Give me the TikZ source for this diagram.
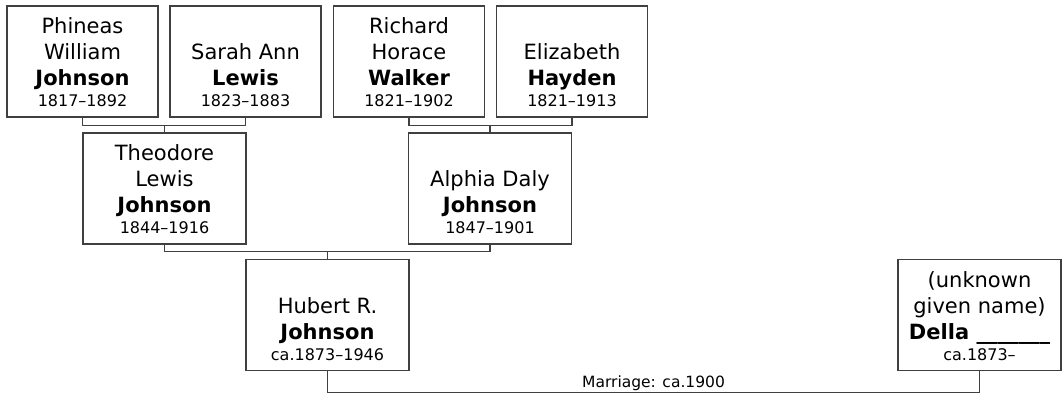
\documentclass[tikz,border=0pt]{standalone}
\usepackage{fontspec}
\setmainfont{DejaVu Sans}

\newcommand{\namesize}{\fontsize{21}{26}\selectfont}
\newcommand{\datesize}{\fontsize{16}{21}\selectfont}
\newcommand{\personcard}[2]{\parbox[c][91pt][b]{150pt}{\centering\namesize #1\par\datesize #2\par}}

\begin{document}
\begin{tikzpicture}[
    x=1pt, y=-1pt,
    person/.style={draw=black!75, line width=1.2pt, rectangle, inner sep=0pt, minimum height=111pt, minimum width=163pt},
    elder/.style={person, minimum width=151pt},
    kin/.style={draw=black!75, line width=1.2pt},
    note/.style={font=\fontsize{15.5}{18}\selectfont, inner sep=1pt}
]
    \useasboundingbox (0,0) rectangle (1062,402);

    % Grandparents
    \node[elder] (phineas) at (82.5,61.5) {\personcard{Phineas\\William\\\textbf{Johnson}}{1817--1892}};
    \node[elder] (sarah) at (245.5,61.5) {\personcard{Sarah Ann\\\textbf{Lewis}}{1823--1883}};
    \node[elder] (richard) at (409,61.5) {\personcard{Richard\\Horace\\\textbf{Walker}}{1821--1902}};
    \node[elder] (elizabeth) at (572,61.5) {\personcard{Elizabeth\\\textbf{Hayden}}{1821--1913}};

    % Parents
    \node[person] (theodore) at (164.5,188.5) {\personcard{Theodore\\Lewis\\\textbf{Johnson}}{1844--1916}};
    \node[person] (alphia) at (490,188.5) {\personcard{Alphia Daly\\\textbf{Johnson}}{1847--1901}};

    % Couple
    \node[person] (hubert) at (327.5,315) {\personcard{Hubert R.\\\textbf{Johnson}}{ca.1873--1946}};
    \node[person] (della) at (979.5,315) {\personcard{(unknown\\given name)\\\textbf{Della \_\_\_\_\_\_\_}}{ca.1873--}};

    % Family lines
    \draw[kin] (phineas.south) -- ++(0,8) coordinate (pjs) -| (sarah.south);
    \draw[kin] (theodore.north) -- (theodore.north |- pjs);
    \draw[kin] (richard.south) -- ++(0,8) coordinate (rwe) -| (elizabeth.south);
    \draw[kin] (alphia.north) -- (alphia.north |- rwe);
    \draw[kin] (theodore.south) -- ++(0,7) coordinate (tja) -| (alphia.south);
    \draw[kin] (hubert.north) -- (hubert.north |- tja);

    % Marriage
    \draw[kin] (hubert.south) -- ++(0,21) -| node[note, pos=0.25, above] {Marriage: ca.1900} (della.south);

\end{tikzpicture}
\end{document}
